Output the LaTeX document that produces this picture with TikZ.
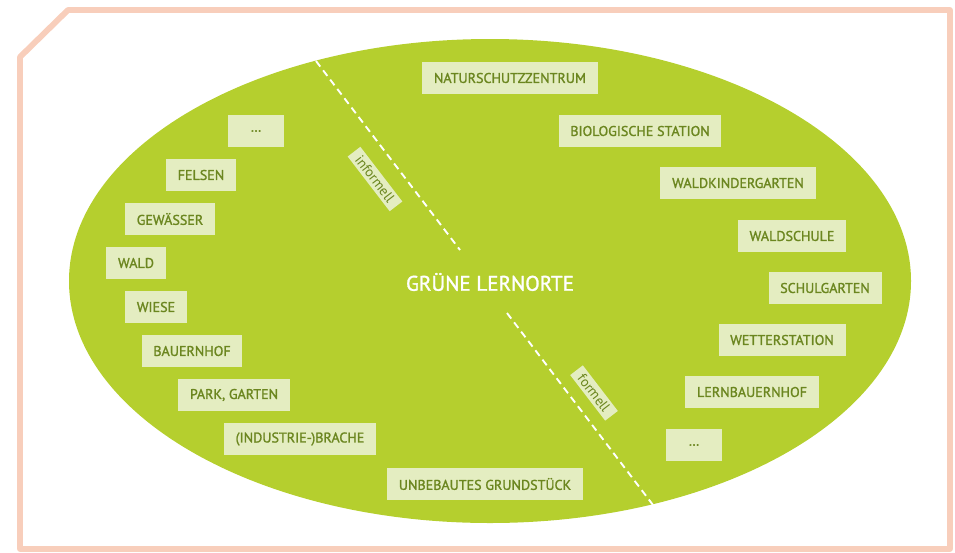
\documentclass[tikz,border=0pt]{standalone}
\usepackage{fontspec}
\setmainfont{PT Sans}
\newfontfamily\halbfett[FakeBold=1.4]{PT Sans}
\usepackage{xcolor}
\usetikzlibrary{positioning}

\definecolor{rahmen}{HTML}{F8CEBB}
\definecolor{wiese}{HTML}{B5CF2E}
\definecolor{karte}{HTML}{E4EDC1}
\definecolor{schrift}{HTML}{6B861F}

\begin{document}
\begin{tikzpicture}[x=0.03cm,y=-0.03cm,
  ort/.style={rectangle,fill=karte,text=schrift,font=\halbfett\fontsize{12}{14}\selectfont,minimum height=28pt,inner xsep=10pt},
  leer/.style={ort,minimum width=48pt},
  art/.style={rectangle,fill=karte,text=schrift,font=\fontsize{12}{14}\selectfont,inner xsep=6pt,inner ysep=2.5pt,rotate=-52.5},
  grenze/.style={white,line width=1.6pt,dash pattern=on 6pt off 4pt}]
  \useasboundingbox (0,0) rectangle (955,552);
  \draw[rahmen,line width=5pt,line join=round] (20,57) -- (68,10) -- (950,10) -- (950,549) -- (20,549) -- cycle;
  \fill[wiese] (490,281) ellipse [x radius=421,y radius=242];
  \node[text=white,font=\halbfett\fontsize{18}{20}\selectfont] (gl) at (490,282){GRÜNE LERNORTE};
  % informell / formell
  \coordinate (i1) at (316,61);
  \coordinate (i2) at (460,250);
  \coordinate (f1) at (507,313);
  \coordinate (f2) at (653,505);
     \draw[grenze] (i1) -- (i2);
     \draw[grenze] (f1) -- (f2);
  \node[art] (inf) at (375,179){informell};
  \node[art] (form) at (594,393){formell};
  % informelle Lernorte
  \node[leer] (dl) at (256,131){\ldots};
  \node[ort] (fe) at (201,175){FELSEN};
  \node[ort] (ge) at (170,219){GEWÄSSER};
  \node[ort] (wa) at (136,263){WALD};
  \node[ort] (wi) at (156,307){WIESE};
  \node[ort] (bh) at (192,351){BAUERNHOF};
  \node[ort] (pg) at (234,395){PARK, GARTEN};
  \node[ort] (br) at (300,439){(INDUSTRIE-)BRACHE};
  \node[ort] (ug) at (485,484){UNBEBAUTES GRUNDSTÜCK};
  % formelle Lernorte
  \node[ort] (nz) at (510,78){NATURSCHUTZZENTRUM};
  \node[ort] (bs) at (640,131){BIOLOGISCHE STATION};
  \node[ort] (wk) at (738,183){WALDKINDERGARTEN};
  \node[ort] (ws) at (792,236){WALDSCHULE};
  \node[ort] (sg) at (825,288){SCHULGARTEN};
  \node[ort] (wt) at (782,340){WETTERSTATION};
  \node[ort] (lb) at (752,392){LERNBAUERNHOF};
  \node[leer] (dr) at (694,445){\ldots};
\end{tikzpicture}
\end{document}
